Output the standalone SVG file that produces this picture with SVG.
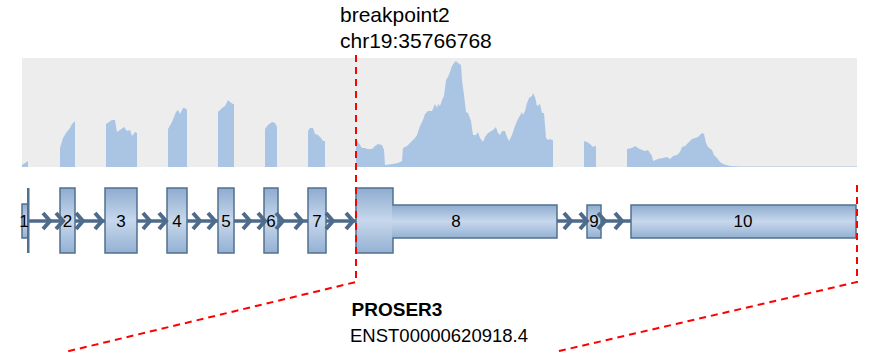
<svg xmlns="http://www.w3.org/2000/svg" width="871" height="352" viewBox="0 0 871 352">
<defs>
<linearGradient id="exg" x1="0" y1="0" x2="0" y2="1">
<stop offset="0" stop-color="#8eabcf"/>
<stop offset="0.5" stop-color="#c7d8ec"/>
<stop offset="1" stop-color="#93b0d3"/>
</linearGradient>
<style>
.bg{fill:#ededed}
.cov{fill:#aac4e4}
.ex{fill:url(#exg);stroke:#51708f;stroke-width:1.5}
.exf{fill:url(#exg)}
.exo{fill:none;stroke:#51708f;stroke-width:1.5}
.intr{stroke:#4e6b8b;stroke-width:3.5;fill:none}
.chev{stroke:#4e6b8b;stroke-width:4;fill:none;stroke-linejoin:miter}
.lbl{font-family:"Liberation Sans",Arial,sans-serif;font-size:17px;fill:#000;text-anchor:middle}
.bp{stroke:#ff0000;stroke-width:2;stroke-dasharray:7,5;fill:none}
.t{font-family:"Liberation Sans",Arial,sans-serif;fill:#000}
</style>
</defs>
<rect class="bg" x="22" y="58" width="835" height="109"/>
<g id="coverage" class="cov">
<polygon points="22,167 22,165 28,161 28,167"/>
<polygon points="60,167 60,148 63,138 66,133 70,128 72,124 75,121 75,167"/>
<polygon points="106,167 106,124 112,120 115,120 117,132 120,130 124,127 127,131 130,130 132,136 135,132 137,133 137,167"/>
<polygon points="168,167 168,129 172,122 176,112 178,110 180,114 183,108 185,108 187,110 187,167"/>
<polygon points="218,167 218,112 222,108 225,106 228,100 230,102 233,104 234,104 234,167"/>
<polygon points="265,167 265,129 268,125 272,122 275,123 277,127 277,167"/>
<polygon points="308,167 308,131 310,128 313,128 315,134 318,135 321,138 323,141 325,141 325,167"/>
<polygon points="356,167 356,140 358,142 362,148 365,148 367,149 372,149 375,146 378,144 382,145 384,150 385,165 393,164 398,163 402,161 403,148 407,146 410,143 413,140 415,138 417,135 420,126 423,120 425,114 428,111 432,111 435,104 437,108 438,104 440,106 442,100 444,96 446,80 448,77 450,72 452,66 454,63 456,61 458,63 461,65 462,80 464,95 466,112 468,113 471,121 473,135 476,135 478,132 480,138 483,142 485,137 488,133 493,130 496,127 498,133 500,135 502,131 505,131 507,137 509,141 512,135 515,126 518,119 522,112 523,115 525,111 527,103 529,98 532,96 533,93 535,97 537,106 540,104 542,113 544,113 546,138 548,140 550,139 552,140 553,140 553,167"/>
<polygon points="584,167 584,141 587,142 590,144 593,147 595,146 596,146 596,167"/>
<polygon points="627,167 627,149 632,148 635,146 638,148 642,150 645,151 648,150 652,156 653,161 658,159 663,158 667,157 670,159 673,156 677,155 680,152 682,147 685,146 688,143 692,139 695,138 698,137 702,133 704,134 706,143 708,147 712,150 714,155 717,158 720,162 723,164 730,166 740,166.4 800,166.6 857,166.6 857,167"/>
</g>
<g id="connectors">
<line class="intr" x1="28" y1="221" x2="631" y2="221"/>
</g>
<g id="exon1"><rect class="ex" x="22" y="204" width="6" height="34"/><rect x="27" y="188" width="2.5" height="65" fill="#51708f"/><text class="lbl" x="24" y="227">1</text></g>
<g id="exon2"><rect class="ex" x="60" y="188" width="15" height="65"/><text class="lbl" x="67.5" y="227">2</text></g>
<g id="exon3"><rect class="ex" x="105" y="188" width="32" height="65"/><text class="lbl" x="121" y="227">3</text></g>
<g id="exon4"><rect class="ex" x="167" y="188" width="20" height="65"/><text class="lbl" x="177" y="227">4</text></g>
<g id="exon5"><rect class="ex" x="218" y="188" width="16" height="65"/><text class="lbl" x="226" y="227">5</text></g>
<g id="exon6"><rect class="ex" x="264" y="188" width="14" height="65"/><text class="lbl" x="271" y="227">6</text></g>
<g id="exon7"><rect class="ex" x="308" y="188" width="18" height="65"/><text class="lbl" x="317" y="227">7</text></g>
<g id="exon8"><rect class="exf" x="356" y="188" width="37" height="65"/><rect class="exf" x="392" y="205" width="165" height="33"/><path class="exo" d="M356,188 H393 V205 H557 V238 H393 V253 H356 Z"/><text class="lbl" x="456" y="227">8</text></g>
<g id="exon9"><rect class="ex" x="587" y="205" width="14" height="33"/><text class="lbl" x="594" y="227">9</text></g>
<g id="exon10"><rect class="ex" x="631" y="205" width="225" height="33"/><text class="lbl" x="743" y="227">10</text></g>
<g id="chevrons" class="chev">
<path d="M43,213 L50,221 L43,229"/>
<path d="M56,213 L63,221 L56,229"/>
<path d="M76,213 L83,221 L76,229"/>
<path d="M95,213 L102,221 L95,229"/>
<path d="M143,213 L150,221 L143,229"/>
<path d="M159,213 L166,221 L159,229"/>
<path d="M193,213 L200,221 L193,229"/>
<path d="M208,213 L215,221 L208,229"/>
<path d="M243,213 L250,221 L243,229"/>
<path d="M258,213 L265,221 L258,229"/>
<path d="M276,213 L283,221 L276,229"/>
<path d="M295,213 L302,221 L295,229"/>
<path d="M326,213 L333,221 L326,229"/>
<path d="M346,213 L353,221 L346,229"/>
<path d="M564,213 L571,221 L564,229"/>
<path d="M580,213 L587,221 L580,229"/>
<path d="M598,213 L605,221 L598,229"/>
<path d="M615,213 L622,221 L615,229"/>
</g>
<g id="breakpoint">
<path class="bp" d="M356,55 V282 L65,352"/>
<path class="bp" d="M857,185 V282 L555,352"/>
<text class="t" x="340" y="22" font-size="21">breakpoint2</text>
<text class="t" x="340" y="48" font-size="21">chr19:35766768</text>
</g>
<g id="title">
<text class="t" x="397" y="316" font-size="19" font-weight="bold" text-anchor="middle">PROSER3</text>
<text class="t" x="439" y="342" font-size="18.5" text-anchor="middle">ENST00000620918.4</text>
</g>
</svg>
